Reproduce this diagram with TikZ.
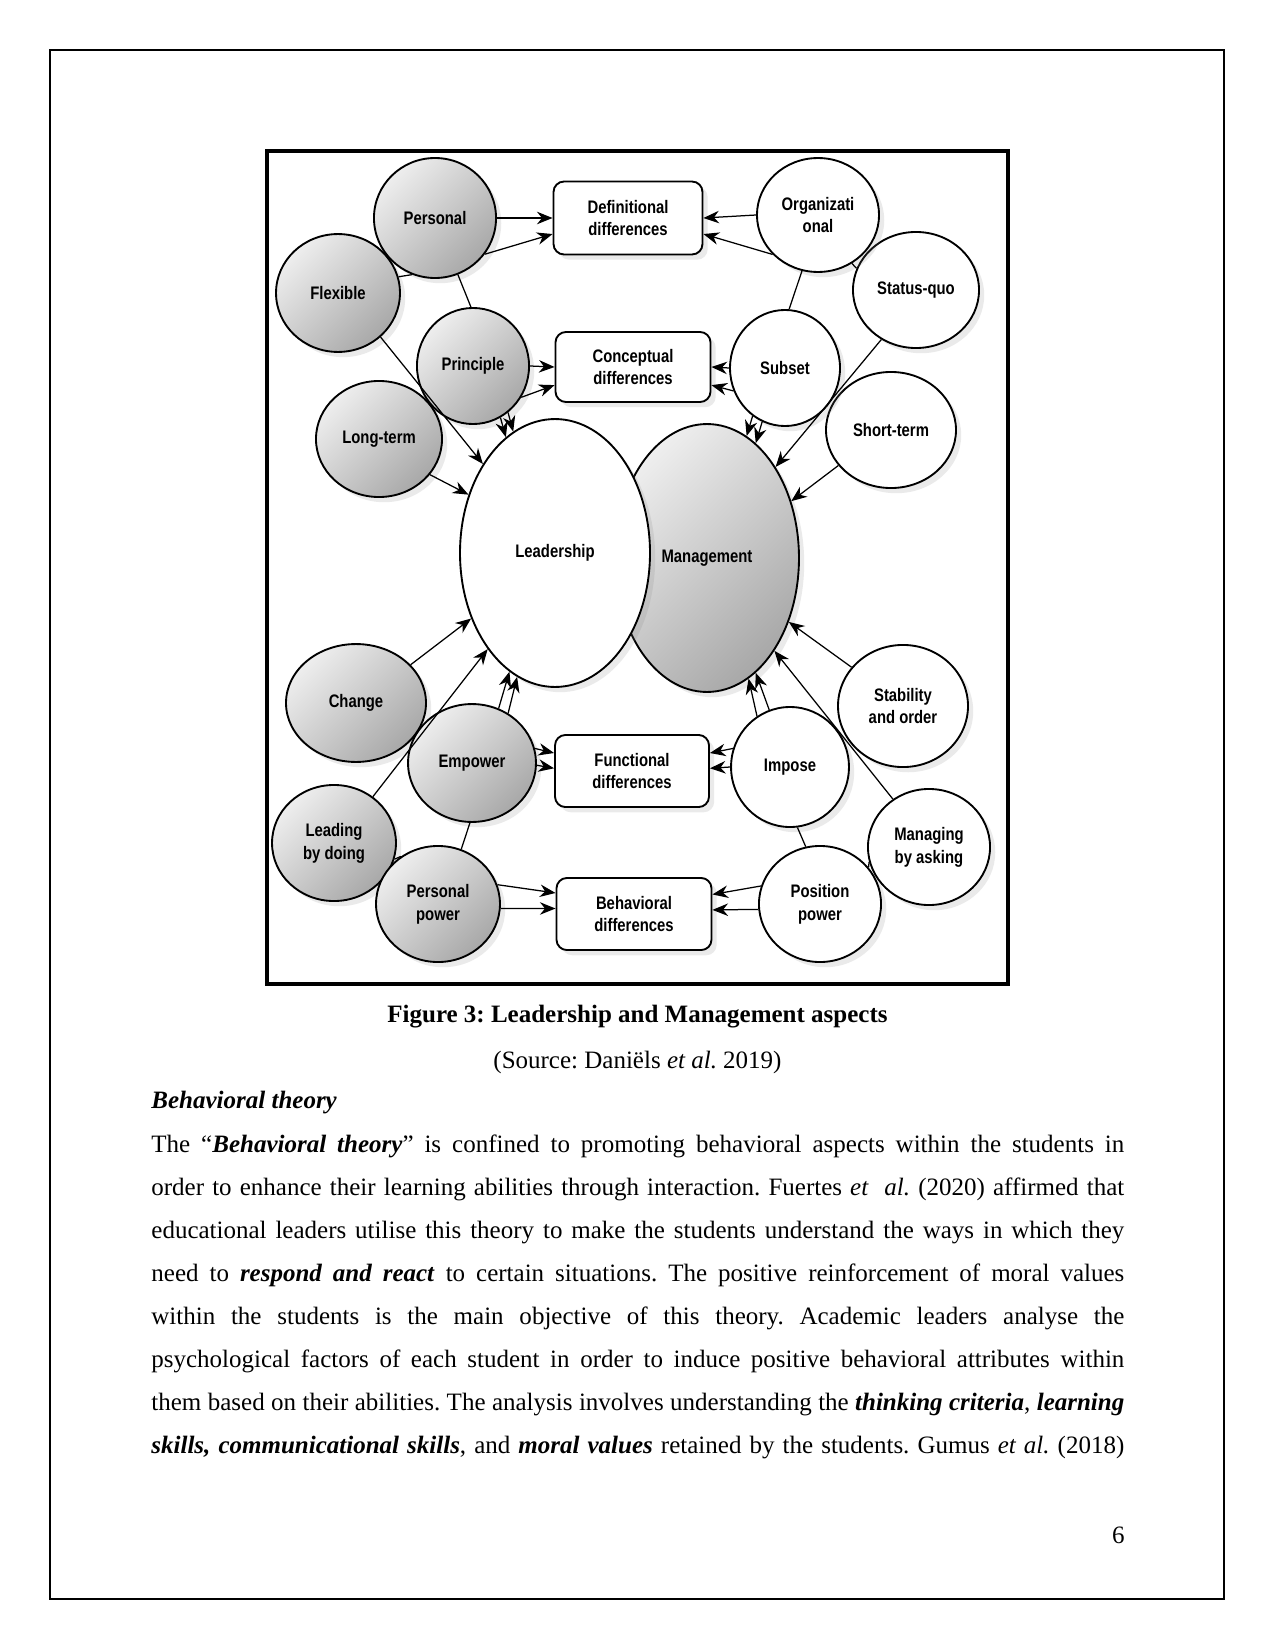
\documentclass[tikz,border=0pt]{standalone}
\usepackage{fontspec}
\setmainfont{Liberation Serif}
\newfontfamily\nodefont[FakeStretch=0.82]{Liberation Sans}
\usetikzlibrary{shapes.geometric, shadows, arrows.meta}
\definecolor{circGray}{RGB}{168, 168, 168}
\definecolor{circLight}{RGB}{238, 238, 238}
\frenchspacing

\begin{document}
\begin{tikzpicture}[x=0.48pt, y=-0.48pt,
    shadowed/.style={drop shadow={opacity=0.16, shadow xshift=2.5pt, shadow yshift=-2.5pt}},
    gcirc/.style={ellipse, draw, line width=0.9pt, top color=circLight, bottom color=circGray,
      shading angle=45, shadowed, inner sep=0pt, align=center,
      font=\nodefont\bfseries\fontsize{8.7}{11}\selectfont},
    wcirc/.style={gcirc, fill=white, top color=white, bottom color=white},
    diffbox/.style={rectangle, rounded corners=5pt, draw, line width=0.9pt, fill=white,
      shadowed, inner sep=0pt, align=center,
      font=\nodefont\bfseries\fontsize{8.7}{11}\selectfont},
    arr/.style={line width=0.6pt, -{Stealth[length=7.5pt, width=6pt]}},
    link/.style={line width=0.6pt},
    bodyline/.style={anchor=base west, inner sep=0pt, font=\fontsize{12}{14}\selectfont}]
  \fill[white] (0,0) rectangle (1275,1651);
  \useasboundingbox (0,0) rectangle (1275,1651);
  \draw[line width=0.7pt] (50,50) rectangle (1224,1599);
  \draw[line width=1.8pt] (267,151) rectangle (1008,984);

  % centre pair
  \node[gcirc, minimum width=88.3pt, minimum height=128.6pt] (mgmt) at (707,558) {Management};
  \node[wcirc, minimum width=91.2pt, minimum height=128.6pt] (lead) at (555,553) {Leadership};

  % leadership side
  \node[gcirc, minimum width=59.5pt, minimum height=56.6pt] (flex) at (338,293) {Flexible};
  \node[gcirc, minimum width=58.6pt, minimum height=57.6pt] (pers) at (435,218) {Personal};
  \node[gcirc, minimum width=60.5pt, minimum height=55.7pt] (longt) at (379,439) {Long-term};
  \node[gcirc, minimum width=53.8pt, minimum height=55.7pt] (prin) at (473,366) {Principle};
  \node[gcirc, minimum width=67.2pt, minimum height=56.6pt] (chng) at (356,703) {Change};
  \node[gcirc, minimum width=61.4pt, minimum height=56.6pt] (empw) at (472,763) {Empower};
  \node[gcirc, minimum width=59.5pt, minimum height=55.7pt] (leaddo) at (334,843) {Leading\\by doing};
  \node[gcirc, minimum width=59.5pt, minimum height=55.7pt] (perspow) at (438,904) {Personal\\power};

  % management side
  \node[wcirc, minimum width=60.5pt, minimum height=55.7pt] (statq) at (916,290) {Status-quo};
  \node[wcirc, minimum width=58.6pt, minimum height=54.7pt] (org) at (818,215) {Organizati\\onal};
  \node[wcirc, minimum width=62.4pt, minimum height=55.7pt] (shortt) at (891,430) {Short-term};
  \node[wcirc, minimum width=52.8pt, minimum height=55.7pt] (subs) at (785,368) {Subset};
  \node[wcirc, minimum width=62.4pt, minimum height=58.6pt] (stab) at (903,706) {Stability\\and order};
  \node[wcirc, minimum width=56.6pt, minimum height=57.6pt] (impo) at (790,767) {Impose};
  \node[wcirc, minimum width=58.6pt, minimum height=55.7pt] (mngask) at (929,847) {Managing\\by asking};
  \node[wcirc, minimum width=58.6pt, minimum height=55.7pt] (pospow) at (820,904) {Position\\power};

  % difference boxes
  \node[diffbox, minimum width=71.5pt, minimum height=35pt] (defd) at (628,218) {Definitional\\differences};
  \node[diffbox, minimum width=74.4pt, minimum height=33.6pt] (concd) at (633,367) {Conceptual\\differences};
  \node[diffbox, minimum width=73.9pt, minimum height=34.6pt] (funcd) at (632,771) {Functional\\differences};
  \node[diffbox, minimum width=74.4pt, minimum height=34.6pt] (behd) at (634,914) {Behavioral\\differences};

  % connectors, top
  \draw[arr] (pers.east) -- (defd.west);
  \draw[arr] (pers.-36) -- (defd.192);
  \draw[link] (flex.15) -- (pers.-112);
  \draw[link] (pers.-68) -- (prin.92);
  \draw[arr] (flex.-46) -- (lead.129);
  \draw[arr] (longt.-35) -- (lead.146);
  \draw[arr] (prin.east) -- (concd.west);
  \draw[arr] (prin.-33) -- (concd.193);
  \draw[arr] (prin.-62) -- (lead.113);
  \draw[arr] (prin.-53) -- (lead.109);
  \draw[arr] (org.west) -- (defd.east);
  \draw[arr] (org.221) -- (defd.-12);
  \draw[link] (org.-55) -- (statq.160);
  \draw[link] (org.-106) -- (subs.86);
  \draw[arr] (subs.west) -- (concd.east);
  \draw[arr] (subs.204) -- (concd.-13);
  \draw[arr] (subs.-124) -- (mgmt.72);
  \draw[arr] (subs.-113) -- (mgmt.67);
  \draw[arr] (statq.-125) -- (mgmt.53);
  \draw[arr] (shortt.214) -- (mgmt.34);

  % connectors, bottom
  \draw[arr] (chng.35) -- (lead.218);
  \draw[arr] (leaddo.50) -- (lead.235);
  \draw[arr] (empw.64) -- (lead.249);
  \draw[arr] (empw.54) -- (lead.253);
  \draw[arr] (empw.13) -- (funcd.167);
  \draw[arr] (empw.-2) -- (funcd.178);
  \draw[link] (empw.-92) -- (perspow.67);
  \draw[link] (leaddo.-15) -- (perspow.128);
  \draw[arr] (perspow.18) -- (behd.165);
  \draw[arr] (perspow.-4) -- (behd.176);
  \draw[arr] (stab.143) -- (mgmt.-38);
  \draw[arr] (mngask.127) -- (mgmt.-54);
  \draw[arr] (impo.123) -- (mgmt.-71);
  \draw[arr] (impo.110) -- (mgmt.-67);
  \draw[arr] (impo.162) -- (funcd.13);
  \draw[arr] (impo.west) -- (funcd.2);
  \draw[link] (impo.-83) -- (pospow.104);
  \draw[link] (mngask.194) -- (pospow.37);
  \draw[arr] (pospow.163) -- (behd.14);
  \draw[arr] (pospow.185) -- (behd.3);

  % caption and body text
  \node[bodyline, anchor=base] (cap) at (637.5,1022) {\bfseries Figure 3: Leadership and Management aspects};
  \node[bodyline, anchor=base] (src) at (637.5,1068) {(Source: Daniëls \textit{et al.} 2019)};
  \node[bodyline] (head) at (151,1108) {\bfseries\itshape Behavioral theory};
  \node[bodyline] (l1) at (151,1152) {\makebox[467pt][s]{The “\textbf{\textit{Behavioral theory}}” is confined to promoting behavioral aspects within the students in}};
  \node[bodyline] (l2) at (151,1195) {\makebox[467pt][s]{order to enhance their learning abilities through interaction. Fuertes \textit{et\ \ al.} (2020) affirmed that}};
  \node[bodyline] (l3) at (151,1238) {\makebox[467pt][s]{educational leaders utilise this theory to make the students understand the ways in which they}};
  \node[bodyline] (l4) at (151,1281) {\makebox[467pt][s]{need to \textbf{\textit{respond and react}} to certain situations. The positive reinforcement of moral values}};
  \node[bodyline] (l5) at (151,1324) {\makebox[467pt][s]{within the students is the main objective of this theory. Academic leaders analyse the}};
  \node[bodyline] (l6) at (151,1367) {\makebox[467pt][s]{psychological factors of each student in order to induce positive behavioral attributes within}};
  \node[bodyline] (l7) at (151,1410) {\makebox[467pt][s]{them based on their abilities. The analysis involves understanding the \textbf{\textit{thinking criteria}}, \textbf{\textit{learning}}}};
  \node[bodyline] (l8) at (151,1453) {\makebox[467pt][s]{\textbf{\textit{skills, communicational skills}}, and \textbf{\textit{moral values}} retained by the students. Gumus \textit{et al.} (2018)}};
  \node[bodyline, anchor=base east] (pgno) at (1125,1543) {6};
\end{tikzpicture}
\end{document}
